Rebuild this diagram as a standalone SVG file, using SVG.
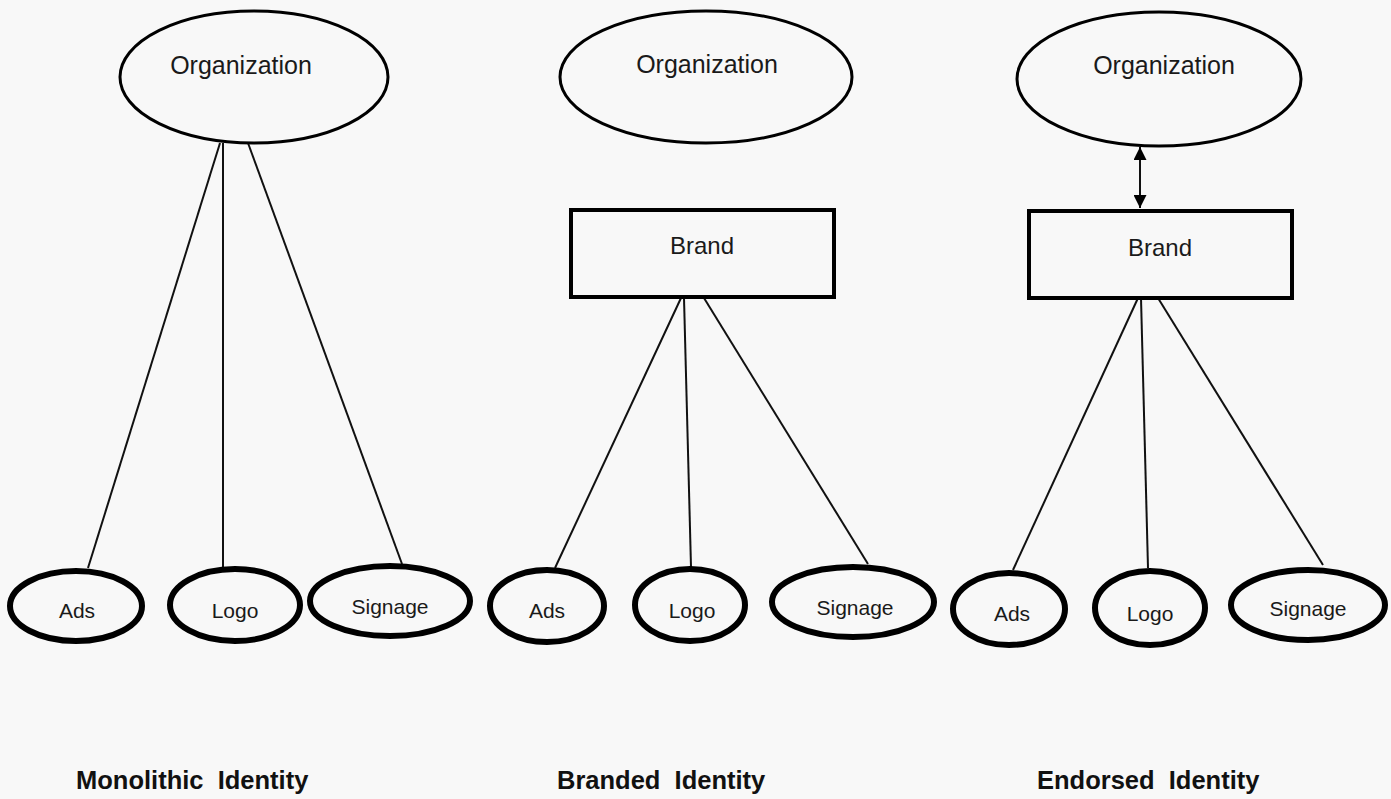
<svg xmlns="http://www.w3.org/2000/svg" width="1391" height="799" viewBox="0 0 1391 799">
  <style>
    .bg { fill: #f8f8f8; }
    .org { fill: none; stroke: #000; stroke-width: 3; }
    .brand { fill: none; stroke: #000; stroke-width: 4; }
    .leaf { fill: none; stroke: #000; stroke-width: 6; }
    .link { stroke: #111; stroke-width: 2; fill: none; }
    .label { font-family: "Liberation Sans", Arial, sans-serif; fill: #1a1a1a; text-anchor: middle; }
    .big { font-size: 25px; }
    .mid { font-size: 24px; }
    .small { font-size: 21px; }
    .title { font-family: "Liberation Sans", Arial, sans-serif; font-size: 25.5px; font-weight: bold; fill: #111; white-space: pre; }
  </style>
  <defs>
    <marker id="head" viewBox="0 0 13 13" refX="13" refY="6.5" markerWidth="13" markerHeight="13" markerUnits="userSpaceOnUse" orient="auto-start-reverse">
      <path d="M0,0 L13,6.5 L0,13 Z" fill="#000"/>
    </marker>
  </defs>

  <rect class="bg" x="0" y="0" width="1391" height="799"/>

  <!-- connectors -->
  <g id="connectors">
    <!-- monolithic -->
    <line class="link" x1="220" y1="143" x2="88" y2="568"/>
    <line class="link" x1="223" y1="143" x2="223" y2="567"/>
    <line class="link" x1="248" y1="143" x2="402" y2="564"/>
    <!-- branded -->
    <line class="link" x1="681" y1="298" x2="555" y2="568"/>
    <line class="link" x1="684" y1="298" x2="691" y2="567"/>
    <line class="link" x1="704" y1="298" x2="868" y2="564"/>
    <!-- endorsed -->
    <line class="link" x1="1138" y1="298" x2="1013" y2="570"/>
    <line class="link" x1="1141" y1="298" x2="1148" y2="568"/>
    <line class="link" x1="1158" y1="298" x2="1323" y2="565"/>
    <line class="link" x1="1140" y1="147" x2="1140" y2="208" marker-start="url(#head)" marker-end="url(#head)"/>
  </g>

  <!-- monolithic identity -->
  <g id="org-mono">
    <ellipse class="org" cx="254" cy="77" rx="134" ry="66"/>
    <text class="label big" x="241" y="74">Organization</text>
  </g>
  <g id="ads-mono">
    <ellipse class="leaf" cx="76" cy="606" rx="66" ry="35"/>
    <text class="label small" x="77" y="618">Ads</text>
  </g>
  <g id="logo-mono">
    <ellipse class="leaf" cx="235" cy="605" rx="65" ry="36"/>
    <text class="label small" x="235" y="618">Logo</text>
  </g>
  <g id="signage-mono">
    <ellipse class="leaf" cx="390" cy="601" rx="80" ry="35"/>
    <text class="label small" x="390" y="614">Signage</text>
  </g>

  <!-- branded identity -->
  <g id="org-branded">
    <ellipse class="org" cx="706" cy="77" rx="146" ry="66"/>
    <text class="label big" x="707" y="73">Organization</text>
  </g>
  <g id="brand-branded">
    <rect class="brand" x="571" y="210" width="263" height="87"/>
    <text class="label mid" x="702" y="254">Brand</text>
  </g>
  <g id="ads-branded">
    <ellipse class="leaf" cx="547" cy="606" rx="57" ry="36"/>
    <text class="label small" x="547" y="618">Ads</text>
  </g>
  <g id="logo-branded">
    <ellipse class="leaf" cx="690" cy="605" rx="55" ry="36"/>
    <text class="label small" x="692" y="618">Logo</text>
  </g>
  <g id="signage-branded">
    <ellipse class="leaf" cx="853" cy="602" rx="81" ry="35"/>
    <text class="label small" x="855" y="615">Signage</text>
  </g>

  <!-- endorsed identity -->
  <g id="org-endorsed">
    <ellipse class="org" cx="1159" cy="79" rx="142" ry="67"/>
    <text class="label big" x="1164" y="74">Organization</text>
  </g>
  <g id="brand-endorsed">
    <rect class="brand" x="1029" y="211" width="263" height="87"/>
    <text class="label mid" x="1160" y="256">Brand</text>
  </g>
  <g id="ads-endorsed">
    <ellipse class="leaf" cx="1009" cy="609" rx="56" ry="36"/>
    <text class="label small" x="1012" y="621">Ads</text>
  </g>
  <g id="logo-endorsed">
    <ellipse class="leaf" cx="1150" cy="608" rx="55" ry="37"/>
    <text class="label small" x="1150" y="621">Logo</text>
  </g>
  <g id="signage-endorsed">
    <ellipse class="leaf" cx="1308" cy="605" rx="77" ry="35"/>
    <text class="label small" x="1308" y="616">Signage</text>
  </g>

  <!-- captions -->
  <g id="captions">
    <text class="title" x="76" y="789">Monolithic  Identity</text>
    <text class="title" x="557" y="789">Branded  Identity</text>
    <text class="title" x="1037" y="789">Endorsed  Identity</text>
  </g>
</svg>
